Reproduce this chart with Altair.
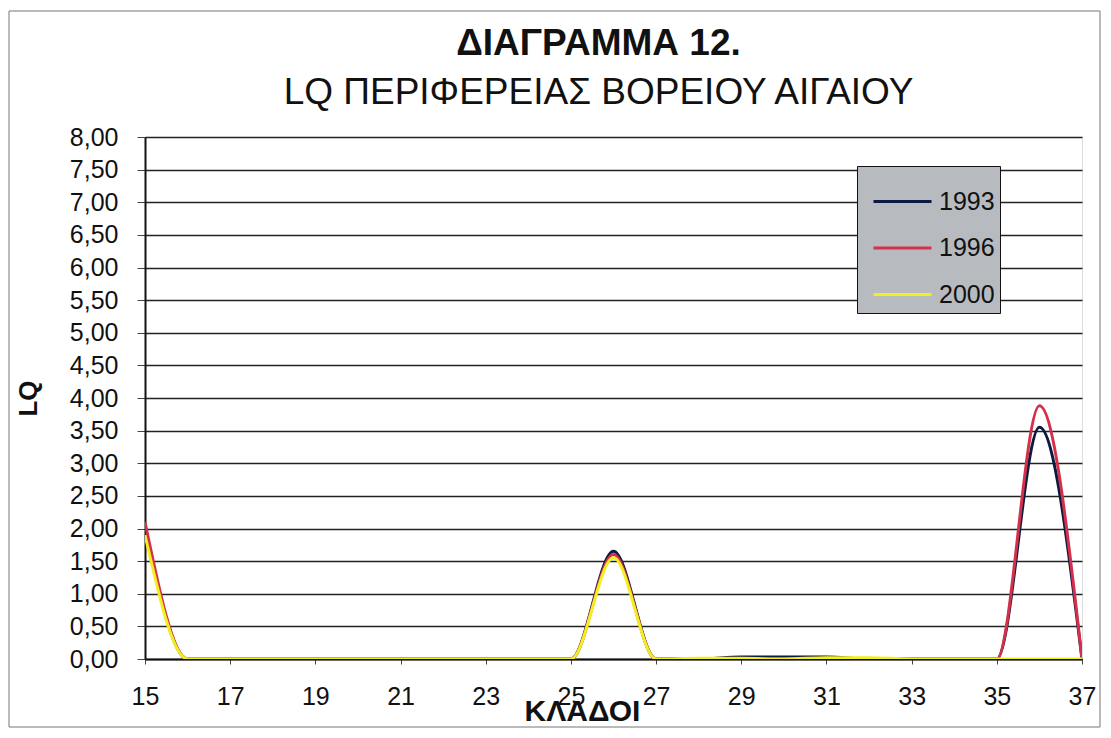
import altair as alt
import pandas as pd

klados = list(range(15, 38))
lq_1993 = [2.00, 0, 0, 0, 0, 0, 0, 0, 0, 0, 0, 1.65, 0, 0, 0.03, 0.03, 0.03, 0, 0, 0, 0, 3.55, 0]
lq_1996 = [2.10, 0, 0, 0, 0, 0, 0, 0, 0, 0, 0, 1.60, 0, 0, 0, 0, 0, 0, 0, 0, 0, 3.88, 0]
lq_2000 = [1.90, 0, 0, 0, 0, 0, 0, 0, 0, 0, 0, 1.55, 0, 0.01, 0.01, 0, 0.02, 0.02, 0, 0, 0, 0, 0]
years = ["1993", "1996", "2000"]
colors = ["#0d1a3f", "#d4304c", "#f2ef1e"]

rows = []
for yr, vals in zip(years, [lq_1993, lq_1996, lq_2000]):
    for k, v in zip(klados, vals):
        rows.append({"ΚΛΑΔΟΙ": k, "LQ": v, "year": yr})
df = pd.DataFrame(rows)

W, H = 937, 522
ylabel = "replace(format(datum.value, '.2f'), '.', ',')"
FONT = "Liberation Sans"

lines = alt.Chart(df).mark_line(interpolate="monotone", strokeWidth=3, clip=True).encode(
    x=alt.X("ΚΛΑΔΟΙ:Q", scale=alt.Scale(domain=[15, 37], nice=False),
            axis=alt.Axis(values=list(range(15, 38, 2)), grid=False, title="ΚΛΑΔΟΙ",
                          labelFontSize=25, labelPadding=20, tickSize=5, tickColor="#444",
                          labelFlush=False,
                          domainColor="#111", domainWidth=2,
                          titleFontSize=30, titleFontWeight="bold", titlePadding=-13,
                          labelColor="#111", titleColor="#111", labelFont=FONT,
                          titleFont=FONT, titleX=437)),
    y=alt.Y("LQ:Q", scale=alt.Scale(domain=[0, 8], nice=False),
            axis=alt.Axis(values=[i * 0.5 for i in range(17)], labelExpr=ylabel, title="LQ",
                          grid=True, gridColor="#222", gridWidth=1.6,
                          labelFontSize=25, labelPadding=19, tickSize=8, tickColor="#444",
                          domainColor="#111", domainWidth=2,
                          titleFontSize=26, titleFontWeight="bold", titlePadding=28,
                          labelColor="#111", titleColor="#111", labelFont=FONT,
                          titleFont=FONT)),
    color=alt.Color("year:N", scale=alt.Scale(domain=years, range=colors),
                    legend=alt.Legend(title=None, orient="none", legendX=712, legendY=29,
                                      symbolType="stroke", symbolSize=3364, symbolStrokeWidth=3,
                                      symbolOffset=10,
                                      labelFontSize=25, labelFont=FONT,
                                      labelColor="#111", rowPadding=2.5,
                                      padding=5, fillColor="#b7babf",
                                      strokeColor="#111", labelOffset=6)),
)

border = alt.Chart(pd.DataFrame({"a": [0]})).mark_rect(
    fill=None, stroke="#777", strokeWidth=1, clip=False
).encode(x=alt.value(-136), x2=alt.value(W + 18), y=alt.value(-126), y2=alt.value(H + 68))

chart = alt.layer(border, lines).properties(
    width=W, height=H,
    padding={"left": 137, "top": 129, "right": 20, "bottom": 71},
    autosize=alt.AutoSizeParams(type="none"),
    title=alt.TitleParams(
        text="ΔΙΑΓΡΑΜΜΑ 12.",
        subtitle="LQ ΠΕΡΙΦΕΡΕΙΑΣ ΒΟΡΕΙΟΥ ΑΙΓΑΙΟΥ",
        fontSize=37, font=FONT, fontWeight="bold", color="#111",
        subtitleFontSize=37, subtitleFont=FONT, subtitleColor="#111",
        subtitlePadding=12, anchor="middle", frame="group", offset=-101, dx=-15,
    ),
).configure_view(fill="#b7babf", stroke="#222", strokeWidth=1.5).configure(background="white")

chart.save("out.html", embed_options={"renderer": "svg", "actions": False})
